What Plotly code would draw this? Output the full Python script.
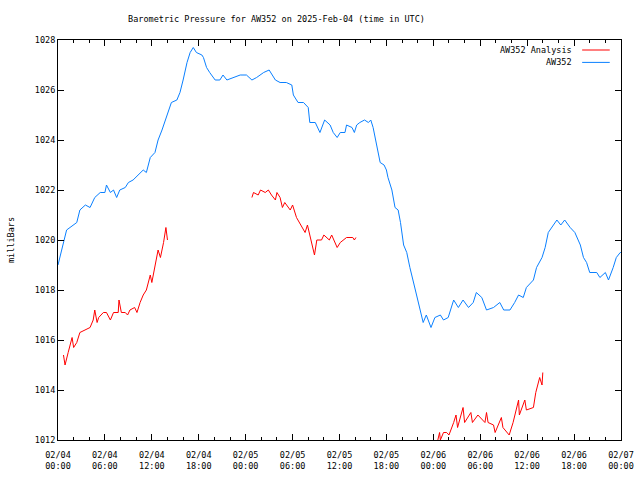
import pandas as pd
import plotly.graph_objects as go

BASE = pd.Timestamp("2025-02-04 00:00")

# Station series: hours since 2025-02-04 00:00 UTC, pressure (mb)
station_hours = [0.0, 1.1, 2.4, 2.8, 3.5, 4.1, 4.7, 5.4, 6.0, 6.2, 6.7, 7.1, 7.5, 7.9, 8.6, 9.0, 9.6,
                 10.3, 10.9, 11.3, 11.8, 12.4, 12.8, 13.3, 13.7, 14.1, 14.5, 15.2, 15.6, 16.0, 16.5,
                 16.9, 17.3, 17.7, 18.4, 18.6, 19.0, 19.4, 20.1, 20.7, 21.1, 21.6, 22.4, 23.3, 24.1,
                 24.8, 25.4, 26.3, 27.0, 27.8, 28.4, 29.2, 29.9, 30.1, 30.7, 31.4, 32.0, 32.2, 32.9,
                 33.5, 34.1, 34.8, 35.2, 35.7, 36.1, 36.7, 36.9, 37.6, 37.9, 38.2, 38.6, 39.2, 39.7,
                 40.0, 40.3, 40.7, 41.2, 41.7, 42.0, 42.2, 42.7, 43.1, 43.5, 43.8, 44.2, 44.6, 45.0,
                 45.7, 46.1, 46.7, 47.1, 47.7, 48.2, 48.9, 49.3, 49.9, 50.6, 51.2, 51.8, 52.5, 53.1,
                 53.5, 54.2, 54.8, 55.7, 56.5, 57.0, 57.8, 58.4, 58.9, 59.5, 59.9, 60.8, 61.2, 61.9,
                 62.3, 62.7, 63.3, 63.8, 64.3, 64.8, 65.5, 66.1, 66.8, 67.2, 67.6, 68.0, 68.9, 69.3,
                 70.0, 70.4, 71.0, 71.4, 71.9, 72.0]
station_mb = [1019.0, 1020.4, 1020.7, 1021.2, 1021.4, 1021.3, 1021.7, 1021.9, 1021.9, 1022.2, 1021.9,
              1022.0, 1021.7, 1022.0, 1022.1, 1022.3, 1022.4, 1022.6, 1022.8, 1022.7, 1023.3, 1023.5,
              1024.0, 1024.4, 1024.8, 1025.2, 1025.5, 1025.6, 1025.9, 1026.4, 1027.1, 1027.5, 1027.7,
              1027.5, 1027.4, 1027.3, 1026.9, 1026.7, 1026.4, 1026.4, 1026.6, 1026.4, 1026.5, 1026.6,
              1026.6, 1026.4, 1026.5, 1026.7, 1026.8, 1026.4, 1026.3, 1026.3, 1026.2, 1025.8, 1025.5,
              1025.5, 1025.3, 1024.7, 1024.7, 1024.3, 1024.8, 1024.6, 1024.3, 1024.1, 1024.3, 1024.3,
              1024.6, 1024.5, 1024.3, 1024.6, 1024.7, 1024.8, 1024.7, 1024.8, 1024.5, 1023.9, 1023.1,
              1023.0, 1022.8, 1022.5, 1022.0, 1021.3, 1021.2, 1020.7, 1019.8, 1019.5, 1018.9, 1018.0,
              1017.5, 1016.7, 1017.0, 1016.5, 1016.9, 1017.0, 1016.8, 1016.9, 1017.6, 1017.3, 1017.6,
              1017.3, 1017.5, 1017.9, 1017.7, 1017.2, 1017.3, 1017.5, 1017.2, 1017.2, 1017.5, 1017.8,
              1017.7, 1018.1, 1018.4, 1018.9, 1019.3, 1019.7, 1020.3, 1020.6, 1020.8, 1020.6, 1020.8,
              1020.5, 1020.3, 1019.8, 1019.3, 1019.1, 1018.7, 1018.7, 1018.5, 1018.7, 1018.4, 1018.9,
              1019.3, 1019.5, 1019.5]

# Analysis series (three separate runs; None = gap)
analysis_hours = [0.7, 0.9, 1.3, 1.8, 2.0, 2.4, 2.8, 3.5, 4.1, 4.5, 4.7, 5.0, 5.2, 5.8, 6.2, 6.7, 7.1,
                  7.7, 7.8, 8.1, 8.6, 8.9, 9.2, 9.8, 10.1, 10.5, 10.9, 11.3, 11.8, 12.0, 12.4, 12.8,
                  13.1, 13.5, 13.8, 14.0, None,
                  24.8, 25.0, 25.6, 25.9, 26.5, 26.9, 27.3, 27.8, 28.0, 28.4, 28.7, 29.0, 29.7, 30.0,
                  30.5, 30.9, 31.6, 31.9, 32.4, 32.8, 33.1, 33.7, 34.0, 34.7, 35.0, 35.3, 35.7, 36.1,
                  36.9, 37.7, 37.9, 38.1, None,
                  48.5, 48.8, 48.9, 49.3, 49.7, 50.0, 50.6, 50.9, 51.1, 51.6, 51.8, 52.0, 52.8, 53.0,
                  53.7, 54.6, 54.8, 55.0, 55.7, 55.9, 56.7, 56.9, 57.7, 58.2, 58.9, 59.0, 59.7, 59.9,
                  60.8, 61.1, 61.6, 61.9, 62.0]
analysis_mb = [1015.4, 1015.0, 1015.5, 1016.1, 1015.7, 1015.9, 1016.3, 1016.4, 1016.5, 1016.8, 1017.2,
               1016.7, 1016.9, 1017.1, 1017.1, 1016.8, 1017.1, 1017.1, 1017.6, 1017.1, 1017.1, 1017.0,
               1017.2, 1017.3, 1017.1, 1017.5, 1017.8, 1018.0, 1018.6, 1018.3, 1018.9, 1019.6, 1019.3,
               1019.9, 1020.5, 1020.0, None,
               1021.7, 1021.9, 1021.8, 1022.0, 1021.9, 1022.0, 1021.8, 1021.6, 1021.9, 1021.7, 1021.3,
               1021.5, 1021.2, 1021.4, 1020.9, 1020.7, 1020.3, 1020.6, 1019.9, 1019.4, 1020.0, 1020.0,
               1020.2, 1020.0, 1020.2, 1020.0, 1019.7, 1019.9, 1020.1, 1020.1, 1020.0, 1020.1, None,
               1011.9, 1012.3, 1012.0, 1012.3, 1012.3, 1012.2, 1012.7, 1013.0, 1012.5, 1013.0, 1013.3,
               1012.7, 1013.1, 1012.7, 1013.0, 1012.7, 1013.1, 1012.7, 1012.6, 1012.3, 1012.9, 1012.5,
               1012.2, 1012.7, 1013.6, 1013.0, 1013.6, 1013.2, 1013.3, 1013.9, 1014.5, 1014.2, 1014.7]

TITLE = "Barometric Pressure for AW352 on 2025-Feb-04 (time in UTC)"
Y_TICKS = [1012, 1014, 1016, 1018, 1020, 1022, 1024, 1026, 1028]
RED = "#ff0000"
BLUE = "#0a80ff"
FONT = "DejaVu Sans Mono"
FS = 8.5


def to_time(hours):
    return [None if h is None else BASE + pd.Timedelta(hours=h) for h in hours]


fig = go.Figure()
fig.add_trace(go.Scatter(x=to_time(analysis_hours), y=analysis_mb, mode="lines",
                         line=dict(color=RED, width=1), connectgaps=False,
                         name="AW352 Analysis", showlegend=False))
fig.add_trace(go.Scatter(x=to_time(station_hours), y=station_mb, mode="lines",
                         line=dict(color=BLUE, width=1), name="AW352", showlegend=False))

# legend drawn gnuplot-style: text right-aligned, sample line to the right
for i, (label, col) in enumerate([("AW352 Analysis", RED), ("AW352", BLUE)]):
    yp = 0.975 - i * 0.031
    fig.add_annotation(x=0.917, y=yp, xref="paper", yref="paper", text=label,
                       showarrow=False, xanchor="right", yanchor="middle",
                       font=dict(family=FONT, size=FS, color="black"))
    fig.add_shape(type="line", xref="paper", yref="paper", x0=0.931, x1=0.98,
                  y0=yp, y1=yp, line=dict(color=col, width=1))

fig.update_layout(
    width=640, height=480,
    margin=dict(l=58, r=19, t=40, b=40, autoexpand=False),
    paper_bgcolor="white", plot_bgcolor="white",
    font=dict(family=FONT, size=FS, color="black"),
    title=dict(text=TITLE, x=0.432, xanchor="center", y=0.96, yanchor="middle",
               xref="container", font=dict(family=FONT, size=FS, color="black")),
    showlegend=False,
)
fig.update_xaxes(
    type="date", automargin=False,
    range=[BASE, BASE + pd.Timedelta(hours=72)],
    tick0=BASE, dtick=6 * 3600 * 1000, tickformat="%m/%d<br>%H:%M",
    ticks="inside", ticklen=6, tickcolor="black", tickwidth=1,
    minor=dict(dtick=2 * 3600 * 1000, ticks="inside", ticklen=3, tickcolor="black"),
    showline=True, linecolor="black", linewidth=1, mirror="allticks",
    showgrid=False, zeroline=False, tickfont=dict(family=FONT, size=FS),
    ticklabelstandoff=7,
)
fig.update_yaxes(
    automargin=False,
    range=[1012, 1028], tickvals=Y_TICKS, ticktext=[str(v) for v in Y_TICKS],
    ticks="inside", ticklen=6, tickcolor="black", tickwidth=1,
    showline=True, linecolor="black", linewidth=1, mirror="allticks",
    showgrid=False, zeroline=False, tickfont=dict(family=FONT, size=FS),
    title=dict(text="milliBars", font=dict(family=FONT, size=FS), standoff=18),
)

fig.write_html("out.html")
